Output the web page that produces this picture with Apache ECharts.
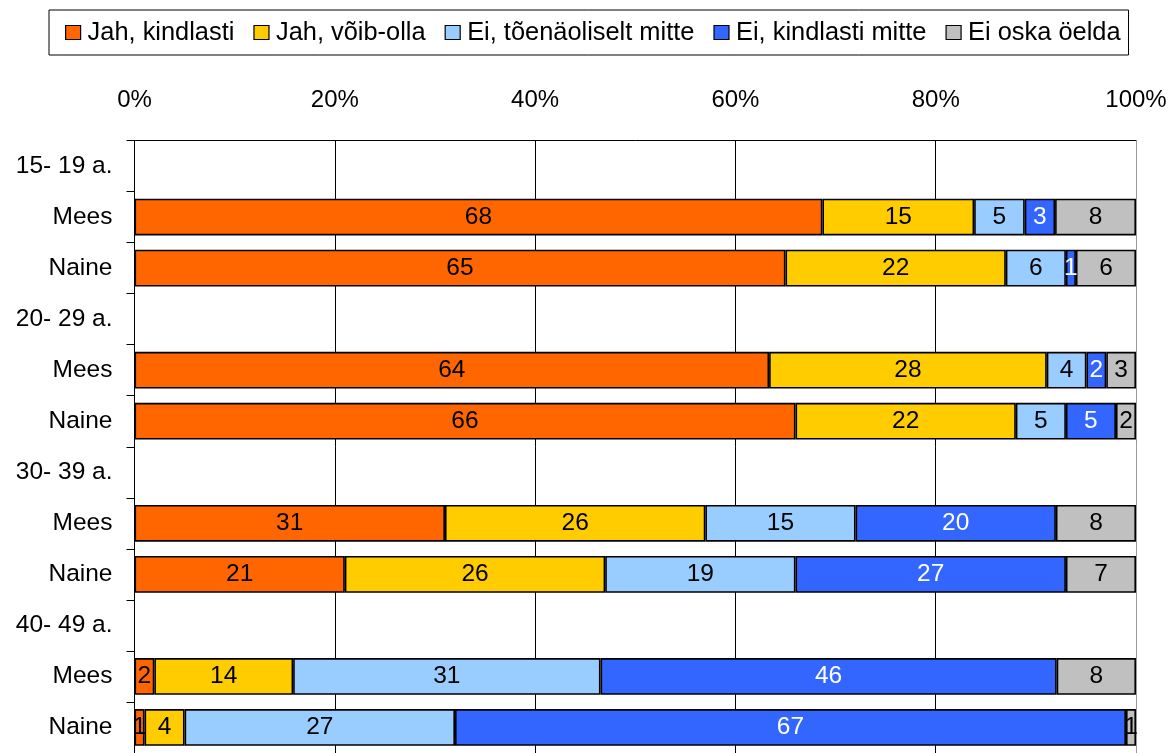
<!DOCTYPE html>
<html>
<head>
<meta charset="utf-8">
<script src="https://cdn.jsdelivr.net/npm/echarts@6/dist/echarts.min.js"></script>
<style>
  html, body { margin: 0; padding: 0; background: #fff; }
  #chart { width: 1170px; height: 753px; }
</style>
</head>
<body>
<div id="chart"></div>
<script>
// Row labels: age group headers followed by gender rows
const categories = ['15- 19 a.', 'Mees', 'Naine', '20- 29 a.', 'Mees', 'Naine',
                    '30- 39 a.', 'Mees', 'Naine', '40- 49 a.', 'Mees', 'Naine'];

const seriesNames = ['Jah, kindlasti', 'Jah, võib-olla', 'Ei, tõenäoliselt mitte',
                     'Ei, kindlasti mitte', 'Ei oska öelda'];

// Answer shares (%) per row; header rows have no bar
const jahKindlasti = [null, 68, 65, null, 64, 66, null, 31, 21, null, 2, 1];
const jahVoibOlla  = [null, 15, 22, null, 28, 22, null, 26, 26, null, 14, 4];
const eiToenaol    = [null, 5, 6, null, 4, 5, null, 15, 19, null, 31, 27];
const eiKindlasti  = [null, 3, 1, null, 2, 5, null, 20, 27, null, 46, 67];
const eiOska       = [null, 8, 6, null, 3, 2, null, 8, 7, null, 8, 1];

const xTicks = [0, 20, 40, 60, 80, 100];

const colors = ['#FF6600', '#FFCC00', '#99CCFF', '#3366FF', '#C0C0C0'];
const labelColors = ['#000', '#000', '#000', '#fff', '#000'];

const allValues = [jahKindlasti, jahVoibOlla, eiToenaol, eiKindlasti, eiOska];

// Each row is scaled to a 100% total; labels keep the stated values
const rowTotals = categories.map((_, i) =>
  allValues.reduce((s, arr) => s + (arr[i] == null ? 0 : arr[i]), 0));

const FONT = 'Liberation Sans, Arial, sans-serif';

const series = allValues.map((arr, k) => ({
  name: seriesNames[k],
  type: 'bar',
  stack: 'total',
  barCategoryGap: '28%',
  itemStyle: { color: colors[k], borderColor: '#000', borderWidth: 1.6 },
  label: {
    show: true,
    position: 'inside',
    color: labelColors[k],
    fontFamily: FONT,
    fontSize: 24.5,
    formatter: p => (p.data && p.data.raw != null) ? String(p.data.raw) : ''
  },
  emphasis: { disabled: true },
  data: arr.map((v, i) => v == null ? null : { value: v / rowTotals[i] * 100, raw: v })
}));

const chart = echarts.init(document.getElementById('chart'), null, { renderer: 'canvas' });
chart.setOption({
  animation: false,
  backgroundColor: '#fff',
  color: colors,
  legend: {
    left: 49,
    top: 10,
    padding: [10, 8, 10, 16],
    itemGap: 19,
    itemWidth: 15,
    itemHeight: 14,
    icon: 'rect',
    borderColor: '#000',
    borderWidth: 1,
    itemStyle: { borderColor: '#000', borderWidth: 1.2 },
    textStyle: { fontFamily: FONT, fontSize: 25.4, color: '#000', padding: [0, 0, 0, 2] },
    data: seriesNames
  },
  grid: {
    left: 134.5,
    right: 34,
    top: 140.5,
    height: 616,
    containLabel: false
  },
  xAxis: {
    type: 'value',
    position: 'top',
    min: 0,
    max: 100,
    interval: 20,
    axisLine: { show: true, lineStyle: { color: '#000', width: 1 } },
    axisTick: { show: false },
    axisLabel: {
      margin: 28,
      fontFamily: FONT,
      fontSize: 24,
      color: '#000',
      formatter: v => xTicks.includes(v) ? v + '%' : ''
    },
    splitLine: { show: true, lineStyle: { color: ['#000', '#000', '#000', '#000', '#000', '#999'], width: 1 } }
  },
  yAxis: {
    type: 'category',
    inverse: true,
    data: categories,
    axisLine: { show: true, lineStyle: { color: '#000', width: 1 } },
    axisTick: { show: true, length: 8, lineStyle: { color: '#000' } },
    axisLabel: { margin: 22, fontFamily: FONT, fontSize: 24.5, color: '#000' }
  },
  series: series
});
</script>
</body>
</html>
